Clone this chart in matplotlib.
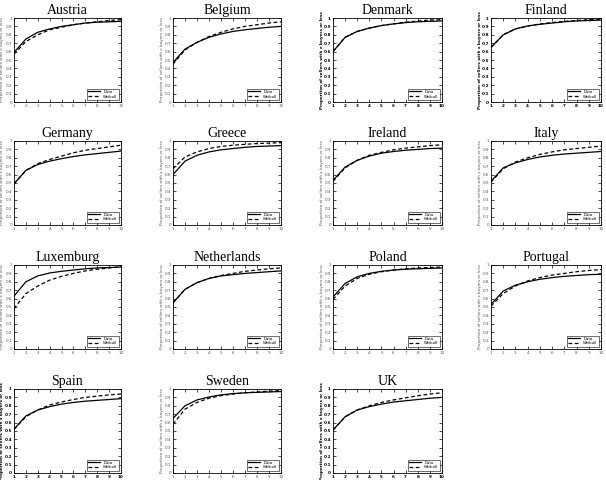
import matplotlib
matplotlib.use("Agg")
import matplotlib.pyplot as plt
import numpy as np

x_vals = [1, 2, 3, 4, 5, 6, 7, 8, 9, 10]

countries = ["Austria", "Belgium", "Denmark", "Finland",
             "Germany", "Greece", "Ireland", "Italy",
             "Luxemburg", "Netherlands", "Poland", "Portugal",
             "Spain", "Sweden", "UK"]

data_austria = [0.59, 0.75, 0.83, 0.87, 0.90, 0.92, 0.94, 0.95, 0.955, 0.96]
weib_austria = [0.57, 0.72, 0.80, 0.86, 0.89, 0.92, 0.94, 0.955, 0.97, 0.98]
data_belgium = [0.47, 0.63, 0.71, 0.77, 0.81, 0.84, 0.86, 0.875, 0.89, 0.90]
weib_belgium = [0.45, 0.62, 0.71, 0.78, 0.83, 0.87, 0.90, 0.92, 0.94, 0.955]
data_denmark = [0.60, 0.77, 0.84, 0.88, 0.91, 0.93, 0.945, 0.955, 0.96, 0.965]
weib_denmark = [0.60, 0.77, 0.84, 0.88, 0.91, 0.93, 0.95, 0.965, 0.975, 0.98]
data_finland = [0.65, 0.80, 0.87, 0.905, 0.925, 0.94, 0.955, 0.965, 0.97, 0.975]
weib_finland = [0.65, 0.80, 0.87, 0.905, 0.93, 0.945, 0.96, 0.97, 0.98, 0.985]
data_germany = [0.49, 0.65, 0.72, 0.76, 0.79, 0.815, 0.835, 0.85, 0.865, 0.88]
weib_germany = [0.49, 0.65, 0.73, 0.78, 0.82, 0.86, 0.89, 0.91, 0.93, 0.95]
data_greece = [0.60, 0.76, 0.83, 0.87, 0.895, 0.91, 0.925, 0.935, 0.94, 0.945]
weib_greece = [0.67, 0.81, 0.87, 0.91, 0.935, 0.95, 0.96, 0.97, 0.975, 0.98]
data_ireland = [0.53, 0.69, 0.77, 0.82, 0.855, 0.875, 0.89, 0.90, 0.91, 0.915]
weib_ireland = [0.52, 0.68, 0.77, 0.83, 0.865, 0.895, 0.915, 0.93, 0.945, 0.955]
data_italy = [0.52, 0.68, 0.74, 0.78, 0.81, 0.83, 0.845, 0.855, 0.865, 0.875]
weib_italy = [0.51, 0.67, 0.75, 0.80, 0.84, 0.87, 0.895, 0.91, 0.925, 0.94]
data_luxemburg = [0.63, 0.80, 0.87, 0.905, 0.925, 0.94, 0.955, 0.965, 0.97, 0.975]
weib_luxemburg = [0.48, 0.66, 0.75, 0.82, 0.865, 0.90, 0.93, 0.95, 0.965, 0.98]
data_netherlands = [0.55, 0.71, 0.79, 0.84, 0.87, 0.885, 0.90, 0.91, 0.92, 0.93]
weib_netherlands = [0.55, 0.71, 0.79, 0.84, 0.875, 0.90, 0.925, 0.94, 0.955, 0.965]
data_poland = [0.62, 0.78, 0.86, 0.90, 0.925, 0.94, 0.95, 0.955, 0.96, 0.965]
weib_poland = [0.59, 0.75, 0.84, 0.89, 0.92, 0.94, 0.955, 0.965, 0.97, 0.975]
data_portugal = [0.53, 0.69, 0.76, 0.80, 0.83, 0.85, 0.865, 0.875, 0.885, 0.89]
weib_portugal = [0.51, 0.66, 0.75, 0.81, 0.85, 0.88, 0.90, 0.92, 0.935, 0.945]
data_spain = [0.52, 0.68, 0.75, 0.79, 0.82, 0.84, 0.855, 0.865, 0.875, 0.885]
weib_spain = [0.52, 0.67, 0.75, 0.81, 0.845, 0.875, 0.90, 0.915, 0.93, 0.94]
data_sweden = [0.65, 0.80, 0.87, 0.905, 0.93, 0.945, 0.955, 0.96, 0.965, 0.97]
weib_sweden = [0.58, 0.76, 0.84, 0.89, 0.92, 0.94, 0.955, 0.965, 0.975, 0.98]
data_uk = [0.51, 0.67, 0.75, 0.79, 0.82, 0.845, 0.86, 0.875, 0.89, 0.90]
weib_uk = [0.51, 0.67, 0.75, 0.80, 0.84, 0.87, 0.895, 0.92, 0.94, 0.955]

series_data = [data_austria, data_belgium, data_denmark, data_finland,
               data_germany, data_greece, data_ireland, data_italy,
               data_luxemburg, data_netherlands, data_poland, data_portugal,
               data_spain, data_sweden, data_uk]
series_weib = [weib_austria, weib_belgium, weib_denmark, weib_finland,
               weib_germany, weib_greece, weib_ireland, weib_italy,
               weib_luxemburg, weib_netherlands, weib_poland, weib_portugal,
               weib_spain, weib_sweden, weib_uk]
bold_panels = ["Denmark", "Finland", "Spain", "UK"]

y_ticks = [0, 0.1, 0.2, 0.3, 0.4, 0.5, 0.6, 0.7, 0.8, 0.9, 1]
y_ticklabels = ["0", "0.1", "0.2", "0.3", "0.4", "0.5", "0.6", "0.7", "0.8", "0.9", "1"]
ylabel_text = "Proportion of sellers with x buyers or less"

W, H = 606, 480
fig = plt.figure(figsize=(W / 100, H / 100), dpi=100)

col_left = [14, 173, 333, 491]
col_width = [107, 108, 109, 110]
row_top = [18, 141, 265, 389]
ax_h = 84

for i, name in enumerate(countries):
    r, c = divmod(i, 4)
    left = col_left[c]
    top = row_top[r]
    ax = fig.add_axes([left / W, 1 - (top + ax_h) / H, col_width[c] / W, ax_h / H])
    ax.plot(x_vals, series_data[i], color="black", lw=0.9, label="Data")
    ax.plot(x_vals, series_weib[i], color="black", lw=0.9, ls=(0, (3, 2)), label="Weibull")
    ax.set_xlim(1, 10)
    ax.set_ylim(0, 1)
    ax.set_xticks(x_vals)
    ax.set_yticks(y_ticks)
    ax.set_yticklabels(y_ticklabels)
    isbold = name in bold_panels
    fw = "bold" if isbold else "normal"
    col = "black" if isbold else "#555555"
    ax.tick_params(direction="in", top=True, right=True, length=2, width=0.5,
                   labelsize=3, pad=1.5, labelcolor=col)
    for lab in ax.get_xticklabels() + ax.get_yticklabels():
        lab.set_fontweight(fw)
    for sp in ax.spines.values():
        sp.set_linewidth(0.6)
    ax.set_ylabel(ylabel_text, fontsize=3, fontweight=fw, color=col)
    ax.yaxis.set_label_coords(-9.5 / col_width[c], 0.5)
    ax.set_title(name, fontsize=10, family="Liberation Serif", pad=3)
    leg = ax.legend(loc="lower right", fontsize=2.8, frameon=True, fancybox=False,
                    edgecolor="black", borderpad=0.3, handlelength=3, labelspacing=0.2,
                    borderaxespad=0.6)
    leg.get_frame().set_linewidth(0.5)

fig.savefig("out.png", dpi=100)
